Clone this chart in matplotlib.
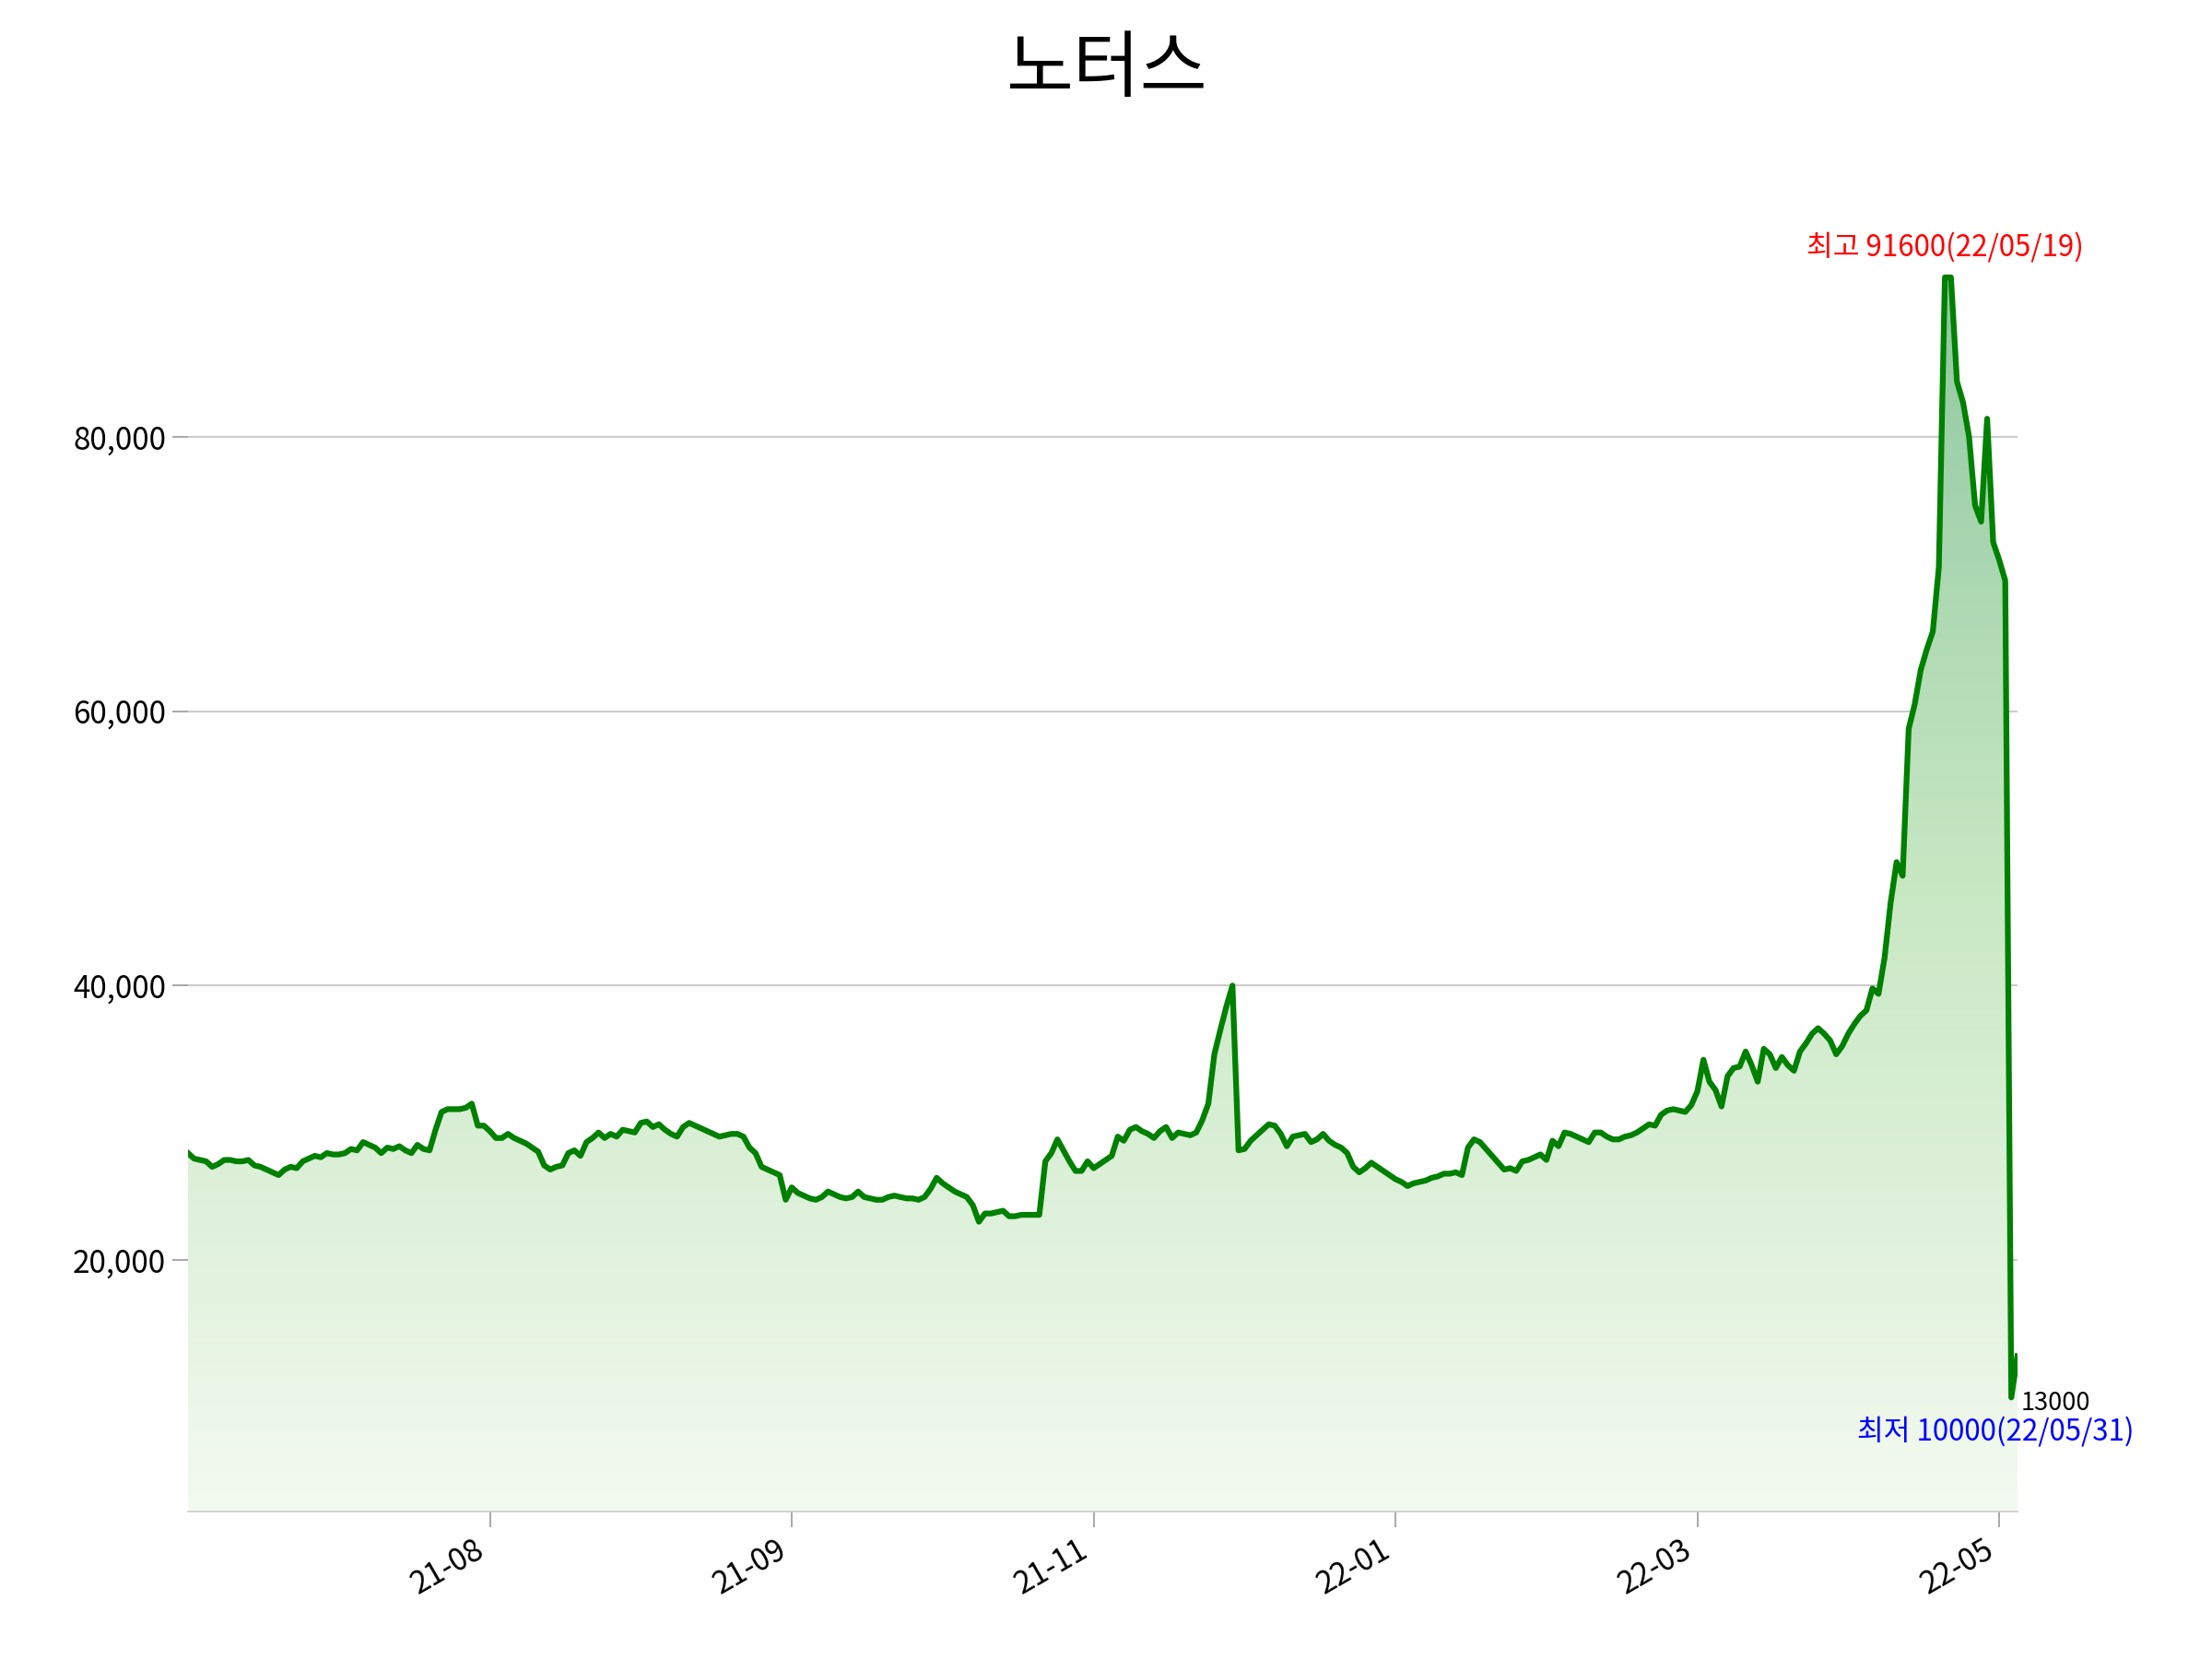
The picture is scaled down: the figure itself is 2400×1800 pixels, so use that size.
import numpy as np
import matplotlib
matplotlib.use("Agg")
import matplotlib.pyplot as plt
from matplotlib.patches import Polygon
from matplotlib.colors import LinearSegmentedColormap

plt.rcParams['font.family'] = ['Noto Sans CJK KR', 'DejaVu Sans']

title = "노터스"
tick_pos = [50, 100, 150, 200, 250, 300]
tick_labels = ["21-08", "21-09", "21-11", "22-01", "22-03", "22-05"]
prices_k = [
    27.8,27.4,27.3,27.2,26.8,27.0,27.3,27.3,27.2,27.2,27.3,26.9,
    26.8,26.6,26.4,26.2,26.6,26.8,26.7,27.2,27.4,27.6,27.5,27.8,27.7,27.7,27.8,28.1,28.0,28.6,28.4,
    28.2,27.8,28.2,28.1,28.3,28.0,27.8,28.4,28.1,28.0,29.5,30.8,31.0,31.0,31.0,
    31.1,31.4,29.8,29.8,29.4,28.9,28.9,29.2,28.9,28.7,28.5,28.2,27.9,26.9,26.6,
    26.8,26.9,27.8,28.0,27.6,28.6,28.9,29.3,28.9,29.2,29.0,29.5,29.4,29.3,30.0,
    30.1,29.7,29.9,29.5,29.2,29.0,29.7,30.0,29.8,29.6,29.4,29.2,29.0,29.1,29.2,
    29.2,29.0,28.2,27.8,26.8,26.6,26.4,26.2,24.4,25.3,24.9,24.7,24.5,24.4,24.6,
    25.0,24.8,24.6,24.5,24.6,25.0,24.6,24.5,24.4,24.4,24.6,24.7,24.6,24.5,24.5,
    24.4,24.6,25.2,26.0,25.6,25.3,25.0,24.8,24.6,24.0,22.8,23.4,23.4,23.5,23.6,
    23.2,23.2,23.3,23.3,23.3,23.3,27.2,27.8,28.8,28.0,27.2,26.5,26.5,27.2,26.7,
    27.0,27.3,27.6,29.0,28.7,29.5,29.7,29.4,29.2,28.9,29.4,29.7,28.9,29.3,29.2,
    29.1,29.3,30.2,31.4,35.0,36.8,38.5,40.0,28.0,28.1,28.7,29.1,29.5,29.9,29.8,
    29.2,28.3,29.0,29.1,29.2,28.6,28.8,29.2,28.7,28.4,28.2,27.8,26.8,26.4,26.7,
    27.1,26.8,26.5,26.2,25.9,25.7,25.4,25.6,25.7,25.8,26.0,26.1,26.3,26.3,26.4,
    26.2,28.2,28.8,28.6,28.1,27.6,27.1,26.6,26.7,26.5,27.2,27.3,27.5,27.7,27.3,
    28.7,28.3,29.3,29.2,29.0,28.8,28.6,29.3,29.3,29.0,28.8,28.8,29.0,29.1,29.3,
    29.6,29.9,29.8,30.6,30.9,31.0,30.9,30.8,31.3,32.3,34.6,33.0,32.4,31.2,33.4,
    34.0,34.1,35.2,34.2,33.0,35.4,35.0,34.0,
    34.8,34.2,33.8,35.2,35.8,36.5,36.9,36.5,36.0,35.0,35.6,36.5,37.2,37.8,38.2,39.8,
    39.4,42.0,46.0,49.0,48.0,58.7,60.5,63.0,64.5,65.8,70.5,91.6,91.6,84.0,82.5,80.0,
    75.0,73.8,81.3,72.3,71.0,69.5,10.0,13.0,
]
prices = np.array(prices_k) * 1000
x = np.arange(len(prices))
ymin, ymax = 1700, 97000

fig = plt.figure(figsize=(16, 12), dpi=150)
ax = fig.add_axes([0.085, 0.089, 0.827, 0.7885])

grad = np.linspace(0, 1, 256).reshape(-1, 1)
cmap = LinearSegmentedColormap.from_list("g", ["#f3faf0", "#c9e8c4", "#8fc8a0"])
peak = prices.max()
im = ax.imshow(grad, extent=[x[0], x[-1], ymin, peak], origin="lower",
               aspect="auto", cmap=cmap, zorder=1)
verts = [(x[0], ymin)] + list(zip(x, prices)) + [(x[-1], ymin)]
poly = Polygon(verts, closed=True, facecolor="none", edgecolor="none")
ax.add_patch(poly)
im.set_clip_path(poly)

ax.plot(x, prices, color="#008000", lw=3, zorder=3)

ax.set_xlim(x[0], x[-1])
ax.set_ylim(ymin, ymax)
ax.set_yticks([20000, 40000, 60000, 80000])
ax.yaxis.set_major_formatter(matplotlib.ticker.StrMethodFormatter("{x:,.0f}"))
ax.grid(axis="y", color="#cccccc", lw=1)
ax.set_axisbelow(True)
ax.set_xticks(tick_pos)
ax.set_xticklabels(tick_labels, rotation=30, ha="right")
for s in ["top", "right", "left"]:
    ax.spines[s].set_visible(False)
ax.spines["bottom"].set_color("#cccccc")
ax.tick_params(axis="y", labelsize=16, length=8, color="#999999")
ax.tick_params(axis="x", labelsize=16, length=8, color="#999999")

imax = int(np.argmax(prices))
imin = int(np.argmin(prices))
ax.annotate("최고 91600(22/05/19)", (x[imax], prices[imax]), xytext=(0, 8),
            textcoords="offset points", ha="center", va="bottom", color="red", fontsize=15)
ax.annotate("최저 10000(22/05/31)", (x[imin], prices[imin]), xytext=(-8, -10),
            textcoords="offset points", ha="center", va="top", color="blue", fontsize=15)
ax.annotate("13000", (x[-1], prices[-1]), xytext=(2, -18),
            textcoords="offset points", ha="left", va="top", color="black", fontsize=13)

fig.suptitle(title, fontsize=38, y=0.98)
fig.savefig("out.png")
